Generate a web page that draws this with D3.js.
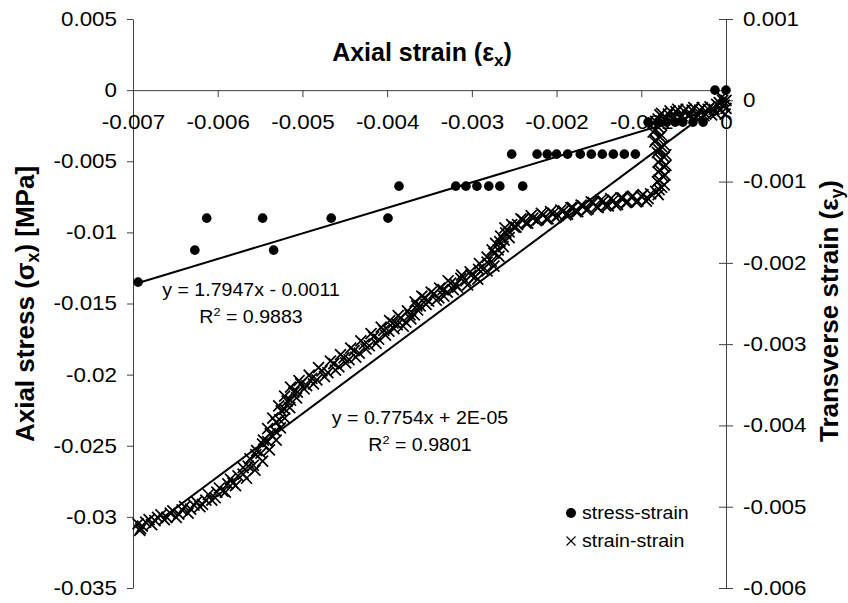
<!DOCTYPE html>
<html>
<head>
<meta charset="utf-8">
<script src="https://cdn.jsdelivr.net/npm/d3@7"></script>
<style>
body { margin: 0; background: #fff; }
svg text { font-family: "Liberation Sans", Arial, sans-serif; fill: #000; }
</style>
</head>
<body>
<div id="chart"></div>
<script>
const width = 848;
const height = 603;
const stretch = 1.12; // the source text is a bit wider than it is tall

// --- ticks ---
const xTicks = [-0.007, -0.006, -0.005, -0.004, -0.003, -0.002, -0.001, 0];
const xTickLabels = ["-0.007", "-0.006", "-0.005", "-0.004", "-0.003", "-0.002", "-0.001", "0"];
const stressTicks = [0.005, 0, -0.005, -0.01, -0.015, -0.02, -0.025, -0.03, -0.035];
const stressTickLabels = ["0.005", "0", "-0.005", "-0.01", "-0.015", "-0.02", "-0.025", "-0.03", "-0.035"];
const transTicks = [0.001, 0, -0.001, -0.002, -0.003, -0.004, -0.005, -0.006];
const transTickLabels = ["0.001", "0", "-0.001", "-0.002", "-0.003", "-0.004", "-0.005", "-0.006"];

// --- stress-strain (left axis) ---
const stressX = [0, -0.00013,
    -0.00027, -0.00039, -0.00051, -0.0006, -0.0007, -0.0008, -0.00092,
    -0.00107, -0.0012, -0.00133, -0.00146, -0.00159, -0.00172, -0.00187, -0.002, -0.00211, -0.00223, -0.00253,
    -0.0024, -0.00267, -0.0028, -0.00294, -0.00307, -0.00319, -0.00386,
    -0.00399, -0.00466, -0.00547, -0.00613,
    -0.00534, -0.00627,
    -0.00694];
const stressY = [0, 0,
    -0.00225, -0.00225, -0.00225, -0.00225, -0.00225, -0.00225, -0.00225,
    -0.0045, -0.0045, -0.0045, -0.0045, -0.0045, -0.0045, -0.0045, -0.0045, -0.0045, -0.0045, -0.0045,
    -0.00675, -0.00675, -0.00675, -0.00675, -0.00675, -0.00675, -0.00675,
    -0.009, -0.009, -0.009, -0.009,
    -0.01125, -0.01125,
    -0.0135];

// --- strain-strain (right axis) ---
const strainX = [0, -0.00002, -0.00005, -0.00007, -0.00001, -0.00011, -0.00014, -0.00019, -0.00024, -0.00028,
    -0.00033, -0.00038, -0.00043, -0.00047, -0.00052, -0.00057, -0.00061, -0.00066, -0.00071, -0.00076,
    -0.0008, -0.00086, -0.0008, -0.00086, -0.00078, -0.00084, -0.00076, -0.00081, -0.00073, -0.0008,
    -0.00073, -0.0008, -0.00074, -0.00081, -0.00076, -0.00083, -0.0008, -0.00089, -0.00094, -0.001,
    -0.00106, -0.00112, -0.00118, -0.00124, -0.0013, -0.00136, -0.00142, -0.00148, -0.00153, -0.00159,
    -0.00165, -0.00171, -0.00177, -0.00183, -0.00189, -0.00195, -0.00201, -0.00207, -0.00212, -0.00218,
    -0.00224, -0.0023, -0.00236, -0.00242, -0.00248, -0.00253, -0.00256, -0.0026, -0.00262, -0.00267,
    -0.00269, -0.00274, -0.00277, -0.00282, -0.00287, -0.00292, -0.00296, -0.00301, -0.00307, -0.00313,
    -0.00319, -0.00325, -0.00329, -0.00334, -0.00339, -0.00345, -0.00351, -0.00356, -0.00361, -0.00365,
    -0.00368, -0.00373, -0.00378, -0.00384, -0.00388, -0.00393, -0.00398, -0.00404, -0.0041, -0.00416,
    -0.00421, -0.00427, -0.00433, -0.00439, -0.00445, -0.00451, -0.00457, -0.00463, -0.0047, -0.00477,
    -0.00483, -0.00489, -0.00495, -0.00502, -0.00506, -0.0051, -0.00514, -0.00518, -0.00521, -0.00525,
    -0.00527, -0.00531, -0.00532, -0.00538, -0.00541, -0.00547, -0.00549, -0.00555, -0.00558, -0.00564,
    -0.0057, -0.00576, -0.00582, -0.00588, -0.00594, -0.00601, -0.00607, -0.00614, -0.00621, -0.00628,
    -0.00635, -0.00642, -0.00649, -0.00656, -0.00663, -0.00671, -0.00678, -0.00685, -0.00691, -0.00694,
    // second pass through the band
    -0.00004, 0, -0.00008, -0.00012,
    -0.00017, -0.00021, -0.00026, -0.00031, -0.00035, -0.0004, -0.00045, -0.0005, -0.00054, -0.00059,
    -0.00064, -0.00068, -0.00073, -0.00078, -0.00083,
    -0.00077, -0.00084, -0.00076, -0.00083, -0.00073, -0.00079, -0.00071, -0.00077, -0.00071, -0.00078,
    -0.00072, -0.00079, -0.00073, -0.00079,
    -0.00092, -0.00098, -0.00104, -0.0011, -0.00116, -0.00122, -0.00128, -0.00133, -0.00139, -0.00145,
    -0.00151, -0.00157, -0.00163, -0.00169, -0.00175, -0.00181, -0.00187, -0.00192, -0.00198, -0.00204,
    -0.0021, -0.00216, -0.00222, -0.00228, -0.00234, -0.0024, -0.00246, -0.0025,
    -0.00261, -0.00256, -0.00266, -0.00263, -0.00272, -0.00268, -0.00276, -0.00274, -0.00282, -0.00282,
    -0.00291, -0.00293, -0.00302, -0.00305, -0.00312, -0.00317,
    -0.00322, -0.00328, -0.00333, -0.00338, -0.00342, -0.00348, -0.00354, -0.00359, -0.00364, -0.00367,
    -0.00372, -0.00376, -0.00381, -0.00387, -0.00392, -0.00397, -0.00402, -0.00407, -0.00413, -0.00419,
    -0.00425, -0.00431, -0.00437, -0.00443, -0.00449, -0.00455, -0.00461, -0.00467, -0.00474, -0.00481,
    -0.00487, -0.00492, -0.00498, -0.00504,
    -0.00514, -0.00507, -0.00521, -0.00515, -0.00528, -0.00521, -0.00535, -0.00526, -0.00541, -0.00531,
    -0.00546, -0.00539, -0.00554, -0.00547, -0.00562, -0.00556, -0.0057, -0.00566,
    -0.00579, -0.00585, -0.00591, -0.00598, -0.00603, -0.00611, -0.00618, -0.00625, -0.00632, -0.00639,
    -0.00646, -0.00653, -0.0066, -0.00667, -0.00674, -0.00681, -0.00689, -0.00692];
const strainY = [0, -0.00006, 0.00004, -0.00012, -0.00017, -0.00005, -0.00011, -0.00008, -0.00017, -0.00009,
    -0.00018, -0.00009, -0.00018, -0.00011, -0.00019, -0.00011, -0.00021, -0.00013, -0.00022, -0.00016,
    -0.00023, -0.00028, -0.00033, -0.00039, -0.00045, -0.00051, -0.00057, -0.00064, -0.0007, -0.00076,
    -0.00082, -0.00088, -0.00094, -0.001, -0.00107, -0.00112, -0.00116, -0.00115, -0.00124, -0.00118,
    -0.00125, -0.00119, -0.00126, -0.0012, -0.00129, -0.00121, -0.0013, -0.00123, -0.00131, -0.00125,
    -0.00135, -0.00129, -0.00137, -0.00132, -0.00141, -0.00135, -0.00144, -0.00137, -0.00146, -0.00139,
    -0.00148, -0.00142, -0.00151, -0.00146, -0.00156, -0.00153, -0.00162, -0.00163, -0.00172, -0.00174,
    -0.00184, -0.00188, -0.00198, -0.00199, -0.00208, -0.00208, -0.00217, -0.00215, -0.00222, -0.00219,
    -0.00227, -0.00225, -0.00236, -0.00233, -0.00243, -0.00238, -0.00247, -0.00243, -0.00253, -0.00253,
    -0.00264, -0.00264, -0.00273, -0.00268, -0.00276, -0.00274, -0.00284, -0.00283, -0.00294, -0.00291,
    -0.00302, -0.003, -0.00311, -0.00308, -0.00319, -0.00317, -0.00328, -0.00324, -0.00335, -0.00333,
    -0.00344, -0.00342, -0.00351, -0.00349, -0.00359, -0.00359, -0.00369, -0.0037, -0.0038, -0.00382,
    -0.00393, -0.00396, -0.00407, -0.0041, -0.0042, -0.00423, -0.00434, -0.00436, -0.00449, -0.0045,
    -0.0046, -0.00462, -0.00471, -0.00472, -0.00481, -0.00482, -0.00492, -0.00492, -0.005, -0.00498,
    -0.00508, -0.00504, -0.00513, -0.00508, -0.00516, -0.00513, -0.00522, -0.00519, -0.00527, -0.00521,
    // second pass through the band
    0, -0.0001, -0.00003, -0.00016,
    -0.00018, -0.00011, -0.00019, -0.00012, -0.00021, -0.00012, -0.00019, -0.00013, -0.00022, -0.00014,
    -0.00023, -0.00017, -0.00024, -0.00018, -0.00026,
    -0.0003, -0.00037, -0.00043, -0.00049, -0.00055, -0.00061, -0.00067, -0.00073, -0.0008, -0.00086,
    -0.00092, -0.00098, -0.00104, -0.0011,
    -0.00121, -0.00116, -0.00124, -0.00118, -0.00125, -0.0012, -0.00128, -0.00123, -0.0013, -0.00124,
    -0.00132, -0.00126, -0.00134, -0.0013, -0.00137, -0.00132, -0.0014, -0.00136, -0.00142, -0.00139,
    -0.00146, -0.00141, -0.00147, -0.00145, -0.00151, -0.00147, -0.00153, -0.00156,
    -0.00157, -0.00169, -0.00167, -0.0018, -0.00176, -0.00192, -0.00184, -0.00204, -0.00193, -0.0021,
    -0.00201, -0.0022, -0.00211, -0.00227, -0.00215, -0.0023,
    -0.00233, -0.00222, -0.00241, -0.00231, -0.00246, -0.00236, -0.00251, -0.00241, -0.00258, -0.00248,
    -0.00269, -0.00259, -0.00278, -0.00265, -0.00281, -0.00271, -0.00289, -0.00279, -0.00299, -0.00287,
    -0.00306, -0.00296, -0.00316, -0.00305, -0.00323, -0.00313, -0.00332, -0.00321, -0.0034, -0.00329,
    -0.00349, -0.00338, -0.00355, -0.00345,
    -0.00353, -0.00366, -0.00364, -0.00378, -0.00376, -0.00391, -0.00391, -0.00403, -0.00404, -0.00418,
    -0.00418, -0.0043, -0.00431, -0.00444, -0.00441, -0.00455, -0.00452, -0.00465,
    -0.00474, -0.00466, -0.00482, -0.00477, -0.00489, -0.00485, -0.00497, -0.00494, -0.00503, -0.005,
    -0.00509, -0.00505, -0.00513, -0.0051, -0.00517, -0.00516, -0.00524, -0.00529];

// --- linear trendlines: [slope, intercept], x range ---
const stressFit = [1.7947, -0.0011];
const stressFitRange = [-0.00694, 0];
const strainFit = [0.7754, 0.00002];
const strainFitRange = [-0.00665, 0];

const svg = d3.select("#chart")
    .append("svg")
    .attr("width", width)
    .attr("height", height);

const x = d3.scaleLinear().domain([-0.007, 0]).range([133, 726]);
const yLeft = d3.scaleLinear().domain([-0.035, 0.005]).range([588, 19]);
const yRight = d3.scaleLinear().domain([-0.006, 0.001]).range([588, 19]);

function styleAxis(g) {
    g.attr("font-family", null).attr("font-size", 20);
    g.selectAll(".domain, .tick line").attr("stroke", "#404040").attr("stroke-width", 1);
    g.selectAll(".tick text").attr("transform", `scale(${stretch},1)`);
}

// --- axes ---
svg.append("g")
    .attr("transform", `translate(133,0)`)
    .call(d3.axisLeft(yLeft)
        .tickValues(stressTicks)
        .tickFormat((d, i) => stressTickLabels[i])
        .tickSizeInner(6).tickSizeOuter(0).tickPadding(8.3))
    .call(styleAxis);

svg.append("g")
    .attr("transform", `translate(726,0)`)
    .call(d3.axisRight(yRight)
        .tickValues(transTicks)
        .tickFormat((d, i) => transTickLabels[i])
        .tickSizeInner(7).tickSizeOuter(0).tickPadding(8.2))
    .call(styleAxis)
    .call(g => g.selectAll(".tick line").attr("x1", -7));

svg.append("g")
    .attr("transform", `translate(0,${yLeft(0)})`)
    .call(d3.axisBottom(x)
        .tickValues(xTicks)
        .tickFormat((d, i) => xTickLabels[i])
        .tickSizeInner(7).tickSizeOuter(0).tickPadding(18))
    .call(styleAxis);

// --- axis titles ---
function titleWithSub(sel, main, sub) {
    sel.append("tspan").text(main);
    sel.append("tspan").attr("font-size", "68%").attr("dy", "0.28em").text(sub);
    sel.append("tspan").attr("dy", "-0.19em").text(")");
}

svg.append("text")
    .attr("x", 422).attr("y", 61)
    .attr("text-anchor", "middle")
    .attr("font-weight", "bold")
    .attr("font-size", 25)
    .call(titleWithSub, "Axial strain (ε", "x");

const leftTitle = svg.append("text")
    .attr("transform", "translate(34,304) rotate(-90)")
    .attr("text-anchor", "middle")
    .attr("font-weight", "bold")
    .attr("font-size", 26);
leftTitle.append("tspan").text("Axial stress (σ");
leftTitle.append("tspan").attr("font-size", "68%").attr("dy", "0.28em").text("x");
leftTitle.append("tspan").attr("dy", "-0.19em").text(") [MPa]");

svg.append("text")
    .attr("transform", "translate(838,311) rotate(-90)")
    .attr("text-anchor", "middle")
    .attr("font-weight", "bold")
    .attr("font-size", 26)
    .call(titleWithSub, "Transverse strain (ε", "y");

// --- markers ---
const crossPath = "M-4.5,-4.5L4.5,4.5M-4.5,4.5L4.5,-4.5";
const bandCross = "M-5.5,-5.5L5.5,5.5M-5.5,5.5L5.5,-5.5";

svg.append("g")
    .selectAll("circle")
    .data(stressX.map((v, i) => [v, stressY[i]]))
    .enter()
    .append("circle")
    .attr("cx", d => x(d[0]))
    .attr("cy", d => yLeft(d[1]))
    .attr("r", 4.8)
    .attr("fill", "#000");

svg.append("g")
    .selectAll("path")
    .data(strainX.map((v, i) => [v, strainY[i]]))
    .enter()
    .append("path")
    .attr("transform", d => `translate(${x(d[0])},${yRight(d[1])})`)
    .attr("d", bandCross)
    .attr("fill", "none")
    .attr("stroke", "#000")
    .attr("stroke-width", 1.7);

// --- trendlines ---
svg.append("line")
    .attr("x1", x(stressFitRange[0]))
    .attr("y1", yLeft(stressFit[0] * stressFitRange[0] + stressFit[1]))
    .attr("x2", x(stressFitRange[1]))
    .attr("y2", yLeft(stressFit[0] * stressFitRange[1] + stressFit[1]))
    .attr("stroke", "#000").attr("stroke-width", 2);

svg.append("line")
    .attr("x1", x(strainFitRange[0]))
    .attr("y1", yRight(strainFit[0] * strainFitRange[0] + strainFit[1]))
    .attr("x2", x(strainFitRange[1]))
    .attr("y2", yRight(strainFit[0] * strainFitRange[1] + strainFit[1]))
    .attr("stroke", "#000").attr("stroke-width", 2);

// --- trendline equations ---
function eqLabel(cx, cy, eq, r2) {
    svg.append("text")
        .attr("transform", `translate(${cx},${cy}) scale(${stretch},1)`)
        .attr("text-anchor", "middle")
        .attr("font-size", 17.5)
        .text(eq);
    const t = svg.append("text")
        .attr("transform", `translate(${cx},${cy + 27}) scale(${stretch},1)`)
        .attr("text-anchor", "middle")
        .attr("font-size", 17.5);
    t.append("tspan").text("R");
    t.append("tspan").attr("font-size", "65%").attr("dy", "-0.6em").text("2");
    t.append("tspan").attr("dy", "0.39em").text(" = " + r2);
}
eqLabel(251, 296, "y = 1.7947x - 0.0011", "0.9883");
eqLabel(420, 424, "y = 0.7754x + 2E-05", "0.9801");

// --- legend ---
const legend = svg.append("g");
legend.append("circle").attr("cx", 571).attr("cy", 513).attr("r", 5).attr("fill", "#000");
legend.append("path").attr("transform", "translate(571,541)").attr("d", crossPath)
    .attr("fill", "none").attr("stroke", "#000").attr("stroke-width", 1.1);
legend.append("text").attr("transform", `translate(582,519) scale(${stretch},1)`)
    .attr("font-size", 17.5).text("stress-strain");
legend.append("text").attr("transform", `translate(582,547) scale(${stretch},1)`)
    .attr("font-size", 17.5).text("strain-strain");
</script>
</body>
</html>
